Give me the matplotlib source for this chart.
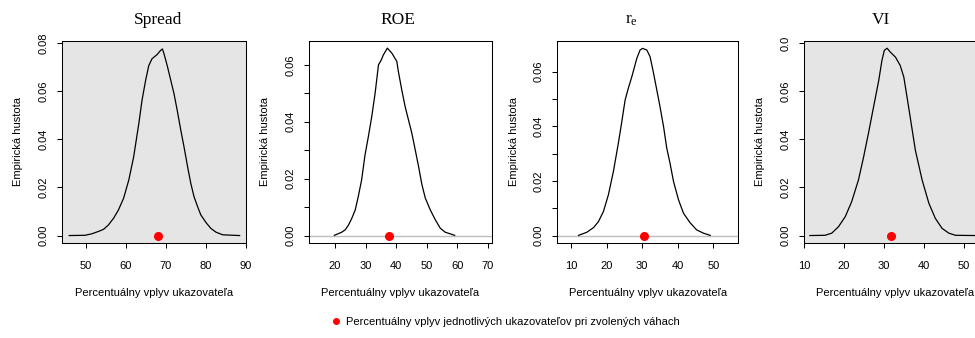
import matplotlib

matplotlib.use("Agg")

import matplotlib.pyplot as plt
from matplotlib.lines import Line2D

plt.rcParams["font.family"] = ["Liberation Sans", "DejaVu Sans"]
plt.rcParams["mathtext.fontset"] = "custom"
plt.rcParams["mathtext.rm"] = "Liberation Serif"
plt.rcParams["mathtext.it"] = "Liberation Serif"

TITLES = ["Spread", "ROE", r"$\mathrm{r}_{\mathrm{e}}$", "VI"]
SHADED = [True, False, False, True]

spread_x = [45.9, 49.8, 51.5, 53.2, 54.5, 55.7, 57.0, 58.2, 59.5, 60.8, 62.0, 63.3,
            64.1, 65.0, 65.8, 66.6, 67.9, 68.7, 69.2, 69.6, 70.4, 71.3, 72.1, 72.9,
            73.8, 74.6, 75.5, 76.3, 77.1, 78.0, 78.8, 80.1, 81.3, 82.6, 84.3, 88.5]
spread_y = [0.0, 0.0001, 0.0007, 0.0017, 0.0026, 0.0044, 0.0072, 0.0106, 0.0155,
            0.0231, 0.0326, 0.0465, 0.0562, 0.0645, 0.0707, 0.0735, 0.0753, 0.0769,
            0.0776, 0.0756, 0.0707, 0.0645, 0.0590, 0.0521, 0.0438, 0.0369, 0.0286,
            0.0217, 0.0162, 0.0120, 0.0086, 0.0054, 0.0030, 0.0014, 0.0003, 0.0]

roe_x = [19.8, 22.2, 23.3, 24.4, 25.5, 26.6, 27.6, 28.7, 29.8, 30.9, 32.0, 33.1,
         34.2, 35.1, 35.8, 37.1, 38.6, 40.2, 40.7, 41.8, 42.9, 44.0, 45.1, 46.2,
         47.3, 48.4, 49.5, 51.1, 52.8, 54.4, 56.0, 59.1]
roe_y = [0.0001, 0.0012, 0.0020, 0.0037, 0.0061, 0.0090, 0.0137, 0.0196, 0.0283,
         0.0348, 0.0418, 0.0500, 0.0600, 0.0617, 0.0635, 0.0659, 0.0641, 0.0612,
         0.0577, 0.0513, 0.0454, 0.0407, 0.0360, 0.0302, 0.0243, 0.0179, 0.0132,
         0.0091, 0.0055, 0.0026, 0.0012, 0.0001]

re_x = [12.1, 14.4, 16.3, 17.7, 19.1, 20.5, 21.9, 23.3, 24.2, 25.2, 26.1, 27.1,
        28.5, 29.4, 30.1, 31.3, 32.2, 33.1, 34.1, 35.0, 36.0, 36.9, 37.8, 38.8,
        40.2, 41.6, 43.4, 45.3, 47.2, 49.1]
re_y = [0.0001, 0.0012, 0.0029, 0.0051, 0.0088, 0.0149, 0.0234, 0.0338, 0.0411,
        0.0496, 0.0539, 0.0582, 0.0649, 0.0679, 0.0685, 0.0679, 0.0655, 0.0600,
        0.0533, 0.0472, 0.0399, 0.0320, 0.0266, 0.0198, 0.0131, 0.0082, 0.0048,
        0.0021, 0.0009, 0.0001]

vi_x = [11.4, 15.2, 16.9, 18.6, 20.3, 21.9, 23.6, 24.9, 26.1, 27.4, 28.7, 29.5,
        30.1, 30.8, 31.6, 32.9, 34.1, 35.0, 36.2, 37.9, 39.6, 41.3, 42.9, 44.6,
        46.3, 48.0, 53.0]
vi_y = [0.0, 0.0001, 0.0010, 0.0037, 0.0079, 0.0141, 0.0231, 0.0327, 0.0424,
        0.0535, 0.0645, 0.0728, 0.0770, 0.0779, 0.0763, 0.0742, 0.0707, 0.0659,
        0.0535, 0.0355, 0.0231, 0.0134, 0.0072, 0.0030, 0.0010, 0.0001, 0.0]

CURVES = [(spread_x, spread_y), (roe_x, roe_y), (re_x, re_y), (vi_x, vi_y)]

# percentualny vplyv pri zvolenych vahach
chosen = [68.0, 37.5, 30.5, 31.7]

x_ticks = [[50, 60, 70, 80, 90], [20, 30, 40, 50, 60, 70],
           [10, 20, 30, 40, 50], [10, 20, 30, 40, 50]]
y_ticks = [[0.0, 0.02, 0.04, 0.06, 0.08],
           [0.0, 0.01, 0.02, 0.03, 0.04, 0.05, 0.06],
           [0.0, 0.01, 0.02, 0.03, 0.04, 0.05, 0.06],
           [0.0, 0.02, 0.04, 0.06, 0.08]]
y_labels = [["0.00", "0.02", "0.04", "0.06", "0.08"],
            ["0.00", "", "0.02", "", "0.04", "", "0.06"],
            ["0.00", "", "0.02", "", "0.04", "", "0.06"],
            ["0.00", "0.02", "0.04", "0.06", "0.0"]]

X_LIMITS = [(44.1, 90.1), (11.6, 71.2), (6.15, 57.0), (9.92, 55.65)]
Y_LIMITS = [(-0.0031, 0.0809), (-0.0026, 0.0684), (-0.0027, 0.0712), (-0.0031, 0.0809)]

W, H = 975, 338
LEFTS = [62, 309.3, 557.3, 804]
RIGHTS = [246, 491.7, 738.3, 986]
TOP, BOTTOM = 41, 243
TITLE_CENTERS = [158.3, 397.7, 631, 881]

fig = plt.figure(figsize=(W / 100, H / 100), dpi=100, facecolor="white")

for i in range(4):
    left, right = LEFTS[i], RIGHTS[i]
    ax = fig.add_axes([left / W, 1 - BOTTOM / H, (right - left) / W, (BOTTOM - TOP) / H])
    if SHADED[i]:
        ax.set_facecolor("#e5e5e5")
    else:
        ax.axhline(0, color="#bebebe", linewidth=1.0, zorder=1)
    xs, ys = CURVES[i]
    ax.plot(xs, ys, color="black", linewidth=0.9, zorder=2)
    ax.plot([chosen[i]], [0], marker="o", markersize=5.5, color="red",
            linestyle="none", zorder=3)
    ax.set_xlim(*X_LIMITS[i])
    ax.set_ylim(*Y_LIMITS[i])
    ax.set_xticks(x_ticks[i])
    ax.set_yticks(y_ticks[i])
    ax.set_yticklabels(y_labels[i])
    ax.tick_params(direction="out", length=3.4, width=0.75, colors="black",
                   labelsize=8)
    ax.tick_params(axis="x", pad=9.5)
    ax.tick_params(axis="y", pad=6.3)
    plt.setp(ax.get_yticklabels(), rotation=90, va="center")
    for spine in ax.spines.values():
        spine.set_linewidth(0.75)
        spine.set_color("black")

    width = right - left
    ax.set_title(TITLES[i], fontsize=12.5, family="Liberation Serif",
                 x=(TITLE_CENTERS[i] - left) / width, pad=12.2)
    ax.set_xlabel("Percentuálny vplyv ukazovateľa", fontsize=8)
    ax.xaxis.set_label_coords(0.5, (BOTTOM - 287.5) / (BOTTOM - TOP))
    ax.set_ylabel("Empirická hustota", fontsize=8)
    ax.yaxis.set_label_coords((22.7 - 62) / 184, 0.5)

handle = Line2D([], [], marker="o", markersize=4, color="red", linestyle="none")
fig.legend(handles=[handle],
           labels=["Percentuálny vplyv jednotlivých ukazovateľov pri zvolených váhach"],
           loc="center", bbox_to_anchor=(506 / W, 1 - 322 / H), frameon=False,
           fontsize=8, handlelength=0.8, handletextpad=0.5)

fig.savefig("out.png", dpi=100)
